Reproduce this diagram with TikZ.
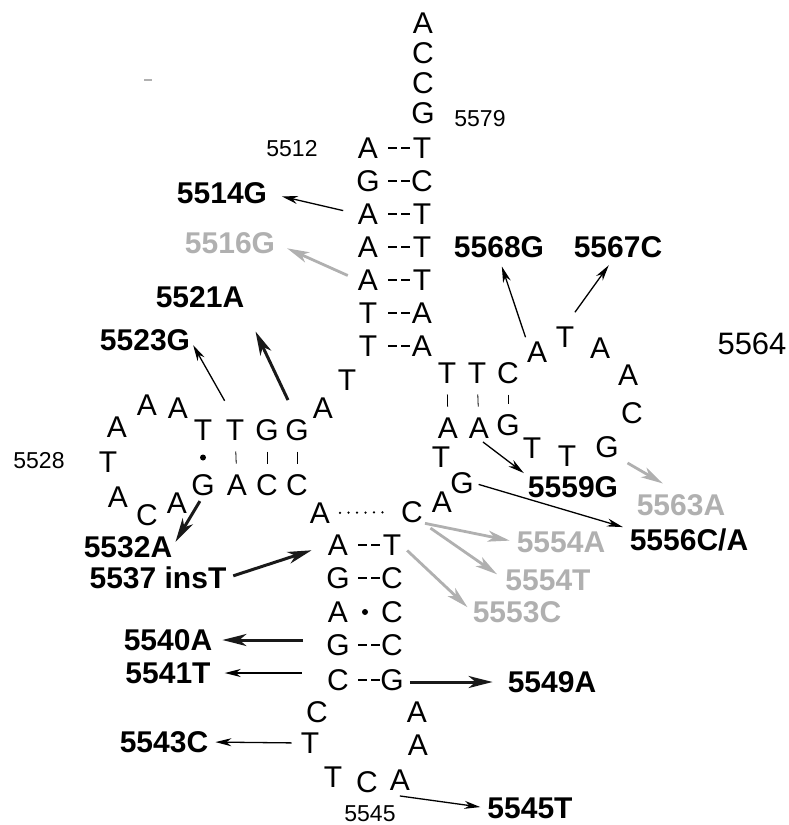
\documentclass[tikz,border=0pt]{standalone}
\usepackage{fontspec}
\setmainfont{Liberation Sans}
\usetikzlibrary{arrows.meta,calc}
\definecolor{mutgray}{RGB}{176,176,176}
\definecolor{mutblack}{RGB}{25,25,25}
\tikzset{
    base/.style={font=\fontsize{30}{30}\selectfont, inner sep=0pt, text height=21.5pt, text depth=0pt},
    mutlabel/.style={font=\fontsize{30}{30}\selectfont\bfseries, inner sep=0pt, text height=21.5pt, text depth=0pt},
    greylabel/.style={mutlabel, text=mutgray},
    posnum/.style={font=\fontsize{23}{23}\selectfont, inner sep=0pt, text height=16.5pt, text depth=0pt},
    mut/.style={-{Stealth[length=16pt,width=8pt,inset=5pt]}, line width=1.3pt},
    mutthick/.style={-{Stealth[length=24pt,width=12pt,inset=7pt]}, line width=3pt, mutblack},
    mutgrey/.style={-{Stealth[length=22pt,width=11pt,inset=6pt]}, line width=2.8pt, mutgray},
    wcpair/.style={line width=1.8pt, dash pattern=on 9pt off 4pt},
    wobble/.style={line width=0.8pt},
}

\begin{document}
\begin{tikzpicture}[x=1pt, y=-1pt]
        \useasboundingbox (0,0) rectangle (789,825);
        % Draw the nucleotides
        \foreach \num/\nt/\x/\y in {
            5512/A/368/148, 5513/G/368/181, 5514/A/368/214, 5515/A/368/247,
            5516/A/368/280, 5517/T/368/313, 5518/T/368/346, 5519/T/347/380,
            5520/A/323/408, 5521/G/297/430, 5522/G/267/430, 5523/T/235/430,
            5524/T/203/430, 5525/A/178/408, 5526/A/147/405, 5527/A/117/427,
            5528/T/108/462, 5529/A/118/497, 5530/C/147/515, 5531/A/177/503,
            5532/G/203/485, 5533/A/237/485, 5534/C/267/485, 5535/C/297/485,
            5536/A/320/513, 5537/A/338/545, 5538/G/338/578, 5539/A/338/612,
            5540/G/338/645, 5541/C/338/680, 5542/C/317/712, 5543/T/310/743,
            5544/T/333/777, 5545/C/367/782, 5546/A/400/780, 5547/A/418/745,
            5548/A/417/712, 5549/G/392/680, 5550/C/392/645, 5551/C/392/612,
            5552/C/392/578, 5553/T/392/545, 5554/C/412/512, 5555/A/442/502,
            5556/G/462/483, 5557/T/441/457, 5558/A/448/428, 5559/A/479/428,
            5560/G/508/425, 5561/T/532/448, 5562/T/567/456, 5563/G/607/447,
            5564/C/632/413, 5565/A/628/375, 5566/A/600/348, 5567/T/565/337,
            5568/A/537/352, 5569/C/508/373, 5570/T/477/373, 5571/T/447/373,
            5572/A/422/346, 5573/A/422/313, 5574/T/422/280, 5575/T/422/247,
            5576/T/422/214, 5577/C/422/181, 5578/T/422/148, 5579/G/423/113,
            5580/C/423/83, 5581/C/423/53, 5582/A/423/23}
            \node[base] (n\num) at (\x,\y) {\nt};
        % Position numbers
        \node[posnum] (p5512) at (292,148) {5512};
        \node[posnum] (p5579) at (480,118) {5579};
        \node[posnum] (p5528) at (39,460) {5528};
        \node[posnum] (p5545) at (370,813) {5545};
        \node[posnum, font=\fontsize{31}{31}\selectfont, text height=22pt] (p5564) at (752,343) {5564};
        % Add the base pairs
        \foreach \l/\r in {5512/5578, 5513/5577, 5514/5576, 5515/5575, 5516/5574, 5517/5573, 5518/5572}
            \draw[wcpair, shorten <=20pt, shorten >=12pt] (n\l.center) -- (n\r.center);
        \foreach \l/\r in {5537/5553, 5538/5552, 5540/5550, 5541/5549}
            \draw[wcpair, shorten <=20pt, shorten >=12pt] (n\l.center) -- (n\r.center);
        \foreach \t/\b in {5523/5533, 5522/5534, 5521/5535, 5571/5558, 5570/5559, 5569/5560}
            \draw[wobble, shorten <=21.5pt, shorten >=21.5pt] (n\t.center) -- (n\b.center);
        \fill ($(n5524)!0.5!(n5532)$) circle (3pt);
        \fill ($(n5539)!0.5!(n5551)$) circle (3pt);
        \draw[line width=2.5pt, line cap=round, dash pattern=on 0pt off 8.5pt, shorten <=20pt, shorten >=24pt]
            (n5536.center) -- (n5554.center);
        % Mutations
        \node[mutlabel] (m5514) at (222,193) {5514G};
        \node[greylabel] (m5516) at (230,243) {5516G};
        \node[mutlabel] (m5521) at (200,297) {5521A};
        \node[mutlabel] (m5523) at (145,340) {5523G};
        \node[mutlabel] (m5568) at (499,247) {5568G};
        \node[mutlabel] (m5567) at (618,247) {5567C};
        \node[mutlabel] (m5559) at (573,487) {5559G};
        \node[greylabel] (m5563) at (681,505) {5563A};
        \node[mutlabel] (m5556) at (689,540) {5556C/A};
        \node[greylabel] (m5554a) at (561,542) {5554A};
        \node[greylabel] (m5554t) at (548,580) {5554T};
        \node[greylabel] (m5553) at (517,612) {5553C};
        \node[mutlabel] (m5532) at (128,547) {5532A};
        \node[mutlabel] (m5537) at (158,578) {5537 insT};
        \node[mutlabel] (m5540) at (168,640) {5540A};
        \node[mutlabel] (m5541) at (168,673) {5541T};
        \node[mutlabel] (m5549) at (552,682) {5549A};
        \node[mutlabel] (m5543) at (164,742) {5543C};
        \node[mutlabel] (m5545) at (530,808) {5545T};
        % Arrows to the mutations
        \draw[mut, shorten <=15pt, shorten >=15pt] (n5514.west) -- (m5514.east);
        \draw[mutgrey, shorten <=11pt, shorten >=13pt] (n5516.west) -- (m5516.east);
        \draw[mutthick, shorten <=21pt, shorten >=26pt] (n5521.north) -- (m5521.south east);
        \draw[mut, shorten <=21pt, shorten >=6pt] (n5523.north) -- (m5523.east);
        \draw[mut, shorten <=4pt, shorten >=9pt] (n5568.north west) -- (m5568.south);
        \draw[mut, shorten <=17pt, shorten >=9pt] (n5567.north) -- (m5567.250);
        \draw[mut, shorten <=5pt, shorten >=5pt] (n5559.south) -- (m5559.north west);
        \draw[mutgrey, shorten <=10pt, shorten >=21pt] (n5563.south east) -- (m5563.north);
        \draw[mut, shorten <=5pt, shorten >=7pt] (n5556.east) -- (m5556.north west);
        \draw[mutgrey, shorten <=2pt, shorten >=7pt] (n5554.south east) -- (m5554a.west);
        \draw[mutgrey, shorten <=9pt, shorten >=10pt] (n5554.south east) -- (m5554t.west);
        \draw[mutgrey, shorten <=8pt, shorten >=7pt] (n5553.east) -- (m5553.west);
        \draw[mutthick, shorten <=6pt, shorten >=6pt] (n5532.south) -- (m5532.east);
        \draw[mutthick, shorten <=7pt, shorten >=17pt] (m5537.east) -- (n5537.west);
        \draw[mutthick, shorten <=23pt, shorten >=10pt] (m5540 -| n5540.west) -- (m5540.east);
        \draw[mut, shorten <=25pt, shorten >=14pt] (m5541 -| n5541.west) -- (m5541.east);
        \draw[mutthick, shorten <=6pt, shorten >=15pt] (m5549 -| n5549.east) -- (m5549.west);
        \draw[mut, shorten <=9pt, shorten >=7pt] (n5543.west) -- (m5543.east);
        \draw[mut, shorten <=22pt, shorten >=7pt] (n5545.south east) -- (m5545.west);
        % small grey mark
        \draw[mutgray, line width=1.5pt] (144,80) -- (152,80);
\end{tikzpicture}
\end{document}
